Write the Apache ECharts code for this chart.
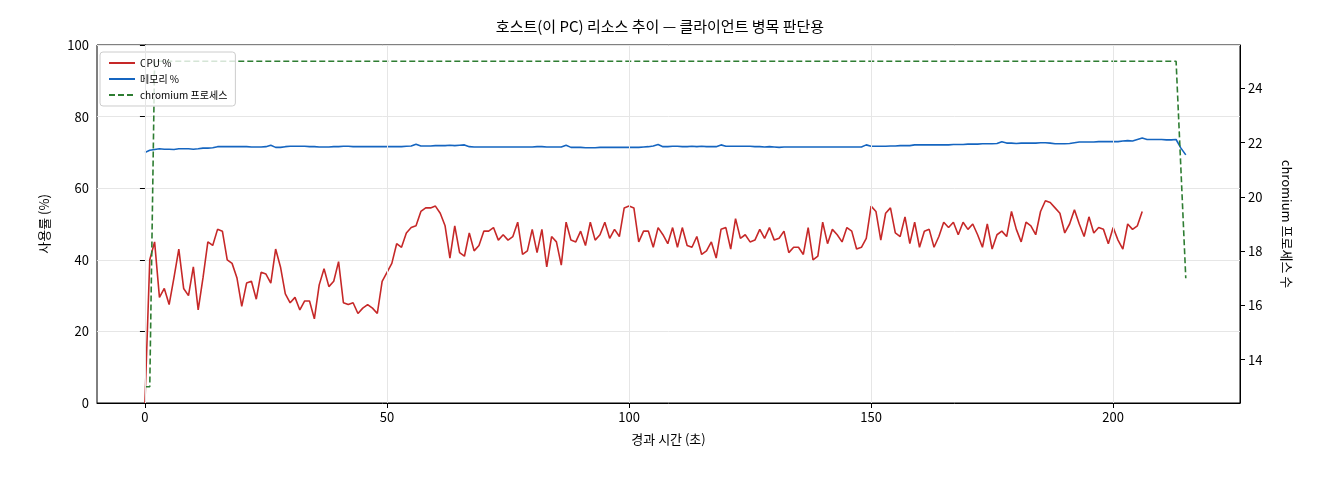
<!DOCTYPE html>
<html><head><meta charset="utf-8">
<script src="https://cdn.jsdelivr.net/npm/echarts@6/dist/echarts.min.js"></script>
<style>html,body{margin:0;background:#fff}#c{width:1320px;height:480px}</style>
</head><body><div id="c"></div>
<script>
const cpu = [0,40,45,29.5,32,27.5,35,43,32,30,38,26,35,45,44,48.5,48,40,39,35,
27,33.5,34,29,36.5,36,33.5,43,38,30.5,28,29.5,26,28.5,28.5,23.5,33,37.5,32.5,34,
39.5,28,27.5,28,25,26.5,27.5,26.5,25,34,36.5,39,44.5,43.5,47.5,49,49.5,53.5,54.5,54.5,
55,53,49.5,40.5,49.5,42,41,47.5,42.5,44,48,48,49,45.5,47,45.5,46.5,50.5,41.5,42.5,48.5,42,
48.5,38,46.5,45,38.5,50.5,45.5,45,48,44,50.5,45.5,47,50.5,46,48.5,46.5,54.5,55,54.5,45,48,
48,43.5,49,47,44.5,49,43.5,49,44,43.5,46.5,41.5,42.5,45,40.5,48.5,49,43,51.5,46,47,45,
45.5,48.5,46,49,45.5,46,48,42,43.5,43.5,41.5,49,40,41,50.5,44.5,48.5,47,45,49,48,43,
43.5,46,55,53.5,45.5,53,54.5,47.5,46.5,52,44.5,50.5,43.5,48,48.5,43.5,46.5,50.5,49,50.5,47,
50.5,48.5,50,47,43.5,50,43,47,48,46.5,53.5,48.5,45,50.5,49.5,47,53.5,56.5,56,54.5,
53,47.5,50,54,50,46.5,52,47.5,49,48.5,44.5,49,45.5,43,50,48.5,49.5,53.5];
const mem = [70,70.6,70.8,71,70.9,70.9,70.8,71,71,71,70.9,71,71.2,71.2,71.3,71.6,71.6,71.6,71.6,71.6,
71.6,71.6,71.5,71.5,71.5,71.6,72,71.4,71.4,71.6,71.7,71.7,71.7,71.7,71.6,71.6,71.5,71.5,71.5,71.6,
71.6,71.7,71.7,71.6,71.6,71.6,71.6,71.6,71.6,71.6,71.6,71.6,71.6,71.6,71.7,71.8,72.3,71.8,71.8,71.8,
71.9,71.9,71.9,72,71.9,72,72.1,71.6,71.5,71.5,71.5,71.5,71.5,71.5,71.5,71.5,71.5,71.5,71.5,71.5,
71.5,71.6,71.6,71.5,71.5,71.5,71.5,72,71.4,71.4,71.4,71.3,71.3,71.3,71.4,71.4,71.4,71.4,71.4,71.4,
71.4,71.4,71.4,71.5,71.6,71.8,72.2,71.6,71.6,71.7,71.7,71.6,71.6,71.7,71.6,71.7,71.6,71.6,71.6,72.1,
71.7,71.7,71.7,71.7,71.7,71.7,71.6,71.6,71.5,71.6,71.5,71.4,71.5,71.5,71.5,71.5,71.5,71.5,71.5,71.5,
71.5,71.5,71.5,71.5,71.5,71.5,71.5,71.5,71.5,72.1,71.7,71.7,71.7,71.7,71.8,71.8,71.9,71.9,71.9,72.1,
72.1,72.1,72.1,72.1,72.1,72.1,72.1,72.2,72.2,72.2,72.3,72.3,72.3,72.4,72.4,72.4,72.5,73,72.6,72.6,
72.5,72.6,72.6,72.6,72.6,72.7,72.7,72.6,72.4,72.4,72.4,72.5,72.7,72.9,72.9,72.9,72.9,73,73,73,
73,73,73.2,73.3,73.2,73.6,74,73.6,73.6,73.6,73.6,73.5,73.5,73.6,71.2,69.3];
const proc = [13,13];
for (let i = 2; i <= 213; i++) proc.push(25);
proc.push(21, 17);
const xLabels = [0,50,100,150,200];
const y2Labels = [14,16,18,20,22,24];

const F = '"Noto Sans CJK KR","DejaVu Sans",sans-serif';
const pts = a => a.map((v,i)=>[i,v]);
const chart = echarts.init(document.getElementById('c'));
chart.setOption({
  animation:false,
  title:{text:'호스트(이 PC) 리소스 추이 — 클라이언트 병목 판단용',left:'center',top:14,
    textStyle:{fontFamily:F,fontSize:15,fontWeight:'normal',color:'#000'}},
  grid:{left:97,right:80,top:45,bottom:77,show:true,borderColor:'#000',borderWidth:1},
  legend:{left:100,top:52,orient:'vertical',itemGap:6,itemWidth:26,itemHeight:2,
    padding:[6,8],borderColor:'#ccc',borderWidth:1,borderRadius:3,backgroundColor:'rgba(255,255,255,0.8)',
    textStyle:{fontFamily:F,fontSize:10,color:'#000'}},
  xAxis:{type:'value',min:-9.9,max:226.2,name:'경과 시간 (초)',nameLocation:'middle',nameGap:30,
    nameTextStyle:{fontFamily:F,fontSize:13,color:'#000'},
    axisLine:{onZero:false,lineStyle:{color:'#000'}},
    axisTick:{show:true,customValues:xLabels,lineStyle:{color:'#000'}},
    axisLabel:{customValues:xLabels,fontFamily:F,fontSize:13,color:'#000'},
    splitLine:{show:false}},
  yAxis:[{type:'value',min:0,max:100,interval:20,name:'사용률 (%)',nameLocation:'middle',nameGap:46,
    nameTextStyle:{fontFamily:F,fontSize:13,color:'#000'},
    axisLine:{show:true,lineStyle:{color:'#000'}},axisTick:{show:true},
    axisLabel:{fontFamily:F,fontSize:13,color:'#000'},
    splitLine:{lineStyle:{color:'#e6e6e6'}}},
   {type:'value',min:12.4,max:25.6,position:'right',name:'chromium 프로세스 수',nameLocation:'middle',nameGap:40,
    nameRotate:-90,nameTextStyle:{fontFamily:F,fontSize:13,color:'#000'},
    axisLine:{show:true,lineStyle:{color:'#000'}},
    axisTick:{show:true,customValues:y2Labels},
    axisLabel:{customValues:y2Labels,fontFamily:F,fontSize:13,color:'#000'},
    splitLine:{show:false}}],
  series:[
   {name:'CPU %',type:'line',data:pts(cpu),symbol:'none',lineStyle:{color:'#c62828',width:1.6},itemStyle:{color:'#c62828'},
    markLine:{silent:true,symbol:'none',label:{show:false},lineStyle:{color:'#e6e6e6',type:'solid',width:1},
      data:xLabels.map(v=>({xAxis:v}))},z:3},
   {name:'메모리 %',type:'line',data:pts(mem),symbol:'none',lineStyle:{color:'#1565c0',width:1.6},itemStyle:{color:'#1565c0'},z:3},
   {name:'chromium 프로세스',type:'line',yAxisIndex:1,data:pts(proc),symbol:'none',
    lineStyle:{color:'#2e7d32',width:1.6,type:[6,3]},itemStyle:{color:'#2e7d32'},z:3}
  ]
});
</script></body></html>
